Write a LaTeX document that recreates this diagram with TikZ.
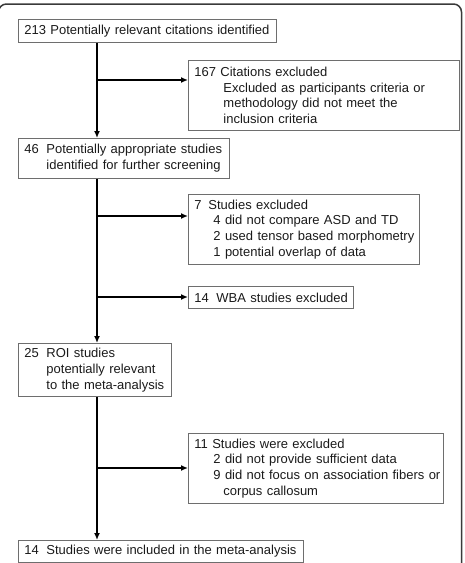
\documentclass[tikz,border=0pt]{standalone}
\usepackage{fontspec}
\setmainfont{Liberation Sans}
\usetikzlibrary{arrows.meta}
\definecolor{boxgray}{HTML}{6E6E6E}
\definecolor{textgray}{HTML}{1A1A1A}
\definecolor{framegray}{HTML}{3A3A3A}
\newcommand{\myind}[1]{\hspace*{#1pt}}
\begin{document}
\begin{tikzpicture}[x=1pt,y=-1pt,
  flowbox/.style={draw=boxgray, line width=0.9pt, anchor=north west,
    inner xsep=6pt, inner ysep=0pt, align=left, text=textgray,
    font=\fontsize{13}{15.7}\selectfont},
  flow/.style={line width=1.7pt, draw=black, -{Latex[length=7pt,width=6pt]}}]
\useasboundingbox (0,0) rectangle (465,563);
\begin{scope}
\clip (0,0) rectangle (465,563);
\draw[framegray, line width=1.5pt, rounded corners=8pt] (-1.5,580) -- (-1.5,4) -- (461.5,4) -- (461.5,580);
\end{scope}
\coordinate (m) at (97,0);
% boxes
\node[flowbox, text width=246pt, minimum height=23pt] (A) at (18,19)
  {\mbox{213 Potentially relevant citations identified}};
\node[flowbox, text width=259pt, minimum height=70pt] (B) at (188,60)
  {\mbox{167 Citations excluded}\\
   \mbox{\myind{29}Excluded as participants criteria or}\\
   \mbox{\myind{29}methodology did not meet the}\\
   \mbox{\myind{29}inclusion criteria}};
\node[flowbox, text width=199pt, minimum height=40pt] (C) at (18,138)
  {\mbox{\makebox[22pt][l]{46}Potentially appropriate studies}\\
   \mbox{\myind{22}identified for further screening}};
\node[flowbox, text width=219pt, minimum height=70pt] (D) at (188,194)
  {\mbox{\makebox[14pt][l]{7}Studies excluded}\\
   \mbox{\myind{19}4 did not compare ASD and TD}\\
   \mbox{\myind{19}2 used tensor based morphometry}\\
   \mbox{\myind{19}1 potential overlap of data}};
\node[flowbox, text width=153pt, minimum height=22pt] (E) at (188,286)
  {\mbox{\makebox[22pt][l]{14}WBA studies excluded}};
\node[flowbox, text width=141pt, minimum height=53pt] (F) at (18,343)
  {\mbox{\makebox[22pt][l]{25}ROI studies}\\
   \mbox{\myind{22}potentially relevant}\\
   \mbox{\myind{22}to the meta-analysis}};
\node[flowbox, text width=243pt, minimum height=70pt] (G) at (188,433)
  {\mbox{11 Studies were excluded}\\
   \mbox{\myind{19}2 did not provide sufficient data}\\
   \mbox{\myind{19}9 did not focus on association fibers or}\\
   \mbox{\myind{29}corpus callosum}};
\node[flowbox, text width=273pt, minimum height=22pt] (H) at (18,540)
  {\mbox{\makebox[22pt][l]{14}Studies were included in the meta-analysis}};
% branch points
\coordinate (b1) at (97,80);
\coordinate (b2) at (97,216);
\coordinate (b3) at (97,297);
\coordinate (b4) at (97,468);
% connectors
\draw[flow] (A.south -| m) -- (C.north -| m);
\draw[flow] (C.south -| m) -- (F.north -| m);
\draw[flow] (F.south -| m) -- (H.north -| m);
\draw[flow] (b1) -- (b1 -| B.west);
\draw[flow] (b2) -- (b2 -| D.west);
\draw[flow] (b3) -- (b3 -| E.west);
\draw[flow] (b4) -- (b4 -| G.west);
\end{tikzpicture}
\end{document}
